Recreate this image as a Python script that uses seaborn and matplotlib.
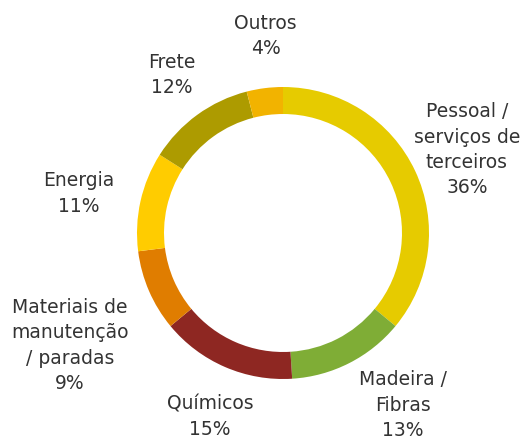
import matplotlib
matplotlib.use('Agg')
import matplotlib.pyplot as plt
import seaborn as sns

# dados do grafico
categorias = ['Pessoal /\nserviços de\nterceiros', 'Madeira /\nFibras', 'Químicos',
              'Materiais de\nmanutenção\n/ paradas', 'Energia', 'Frete', 'Outros']
percentuais = [36, 13, 15, 9, 11, 12, 4]
cores = ['#E6CB00', '#7FAD36', '#8E2722', '#E07D00', '#FFCC00', '#AD9B00', '#F2B300']

# posicao dos rotulos (em raios, relativo ao centro)
pos_rotulos = [(1.26, 0.57), (0.82, -1.18), (-0.50, -1.26), (-1.46, -0.77),
               (-1.40, 0.27), (-0.76, 1.08), (-0.12, 1.35)]

sns.set_theme(style='white')
plt.rcParams['font.family'] = ['DejaVu Sans']

fig = plt.figure(figsize=(5.23, 4.41), dpi=100)
ax = fig.add_axes([0, 0, 1, 1])

raio_px = 146
cx, cy = 283, 233
ax.pie(percentuais, colors=cores, startangle=90, counterclock=False,
       wedgeprops=dict(width=0.185, linewidth=0), radius=1)

for cat, val, (x, y) in zip(categorias, percentuais, pos_rotulos):
    ax.text(x, y, f'{cat}\n{val}%', ha='center', va='center', fontsize=13.5,
            color='#333333', linespacing=1.42)

ax.set_xlim(-cx / raio_px, (523 - cx) / raio_px)
ax.set_ylim(-(441 - cy) / raio_px, cy / raio_px)
ax.set_aspect('equal')
ax.axis('off')

fig.savefig('out.png', dpi=100, facecolor='white')
